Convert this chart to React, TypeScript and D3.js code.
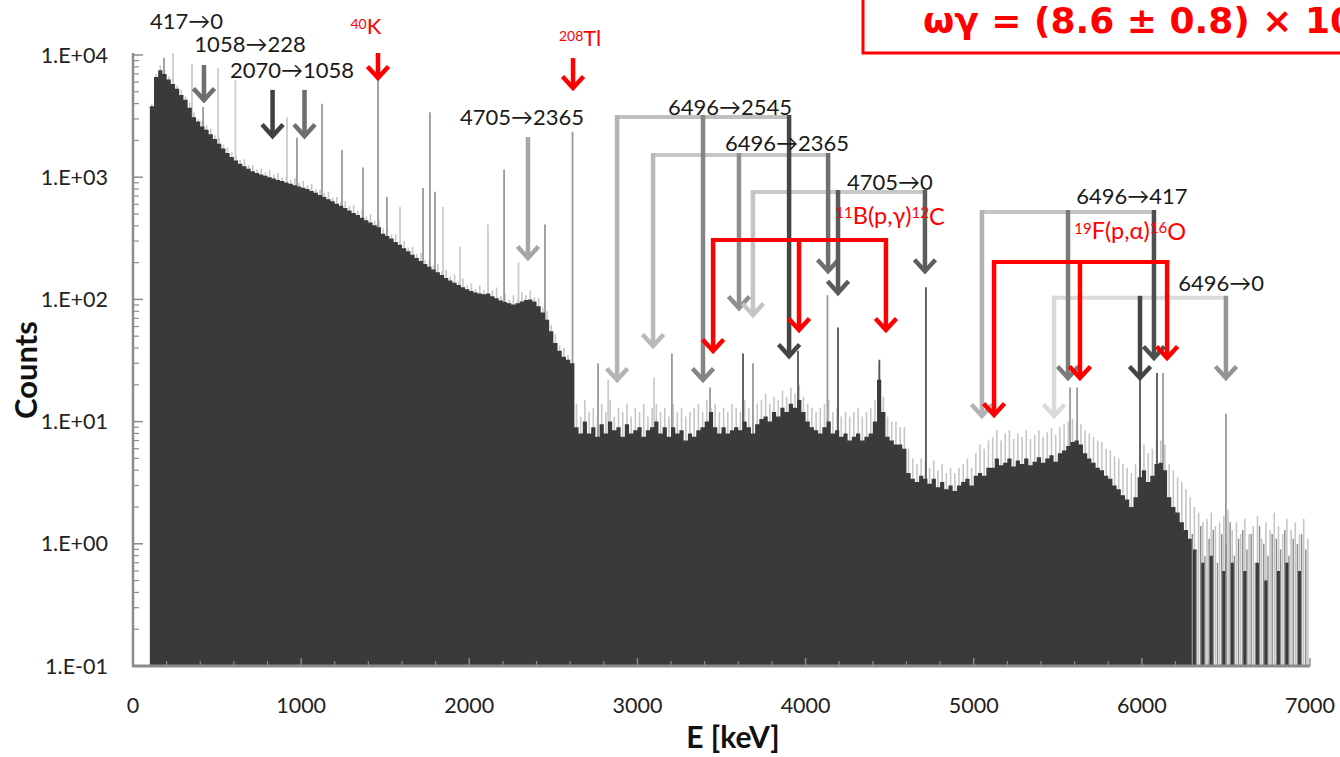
import React from "react";
import * as d3 from "d3";

const WIDTH = 1340;
const HEIGHT = 757;

// ---- axes ----
const xTicks = [0, 1000, 2000, 3000, 4000, 5000, 6000, 7000];
const yTicks = [0.1, 1, 10, 100, 1000, 10000];
const yTickLabels = ["1.E-01", "1.E+00", "1.E+01", "1.E+02", "1.E+03", "1.E+04"];
const xTitle = "E [keV]";
const yTitle = "Counts";

// ---- spectrum (25 keV bins from 100 keV) ----
const BIN_START = 100;
const BIN_WIDTH = 25;
const darkCounts = [
  3800, 6600, 7500, 7000, 6300, 5800, 5300, 4700, 4300, 3700, 3100, 2850, 2600, 2450, 2250, 2050, 1880, 1720, 1580, 1460,
  1370, 1290, 1230, 1170, 1120, 1080, 1050, 1030, 1000, 975, 950, 930, 905, 885, 860, 840, 820, 800, 770, 745,
  715, 690, 660, 635, 605, 585, 560, 535, 510, 490, 465, 445, 425, 405, 390, 345, 330, 315, 295, 280,
  262, 248, 232, 218, 206, 195, 185, 176, 167, 158, 150, 143, 137, 131, 126, 121, 117, 114, 112, 110,
  112, 106, 102, 98, 95, 93, 91, 93, 96, 99, 100, 96, 88, 78, 68, 55, 44, 38, 34, 32,
  30, 9, 8, 10, 8, 9, 7.5, 9.5, 8, 10, 8.5, 9, 7.5, 9.5, 8, 8.5, 9, 7.5, 8.5, 9,
  10, 8, 9, 7.5, 9, 8, 8.5, 7, 8, 7.5, 8.5, 9, 10, 12, 9, 8, 9, 8, 8.5, 9,
  8.5, 10, 9, 8, 9.5, 10.5, 11, 10, 12, 11, 13, 12, 14, 13, 15, 12, 10, 9, 8.5, 8,
  9, 10, 8, 8.5, 7.5, 8, 7, 7.5, 8, 7, 7.5, 8, 10, 22, 12, 7.5, 7, 6.5, 6.5, 6,
  3.8, 3.4, 3.2, 3.6, 3.4, 3.1, 3.4, 2.9, 3.2, 2.8, 3.0, 2.7, 3.0, 3.2, 3.4, 3.0, 3.6, 3.8, 3.6, 4.2,
  4.2, 5.0, 4.4, 4.6, 5.0, 4.3, 4.8, 4.5, 5.0, 4.4, 4.7, 5.1, 4.6, 5.0, 5.3, 4.7, 5.5, 5.8, 6.3, 6.8,
  7.0, 6.5, 5.5, 5.0, 4.6, 4.2, 4.0, 3.6, 3.4, 3.0, 2.8, 2.5, 2.3, 2.0, 2.4, 3.5, 4.0, 3.2, 3.6, 4.5,
  4.6, 4.0, 2.4, 2.0, 1.8, 1.5, 1.3, 1.1, 0.9, 0, 0.7, 0, 0.8, 0, 0, 0.6, 0, 0.7, 0, 0,
  0.6, 0, 0, 0.7, 0, 0.5, 0, 0, 0.6, 0, 0.7, 0, 0, 0.6, 0, 0,
];

// upper (light) fluctuation envelope, same 25 keV bins
const lightCounts = [
  4000, 7000, 8200, 7600, 6700, 6400, 5600, 5200, 4600, 4100, 3400, 3000, 2900, 2650, 2500, 2200, 2100, 1850, 1750, 1600,
  1500, 1380, 1400, 1250, 1260, 1160, 1180, 1100, 1150, 1050, 1080, 1000, 1020, 950, 980, 900, 930, 860, 880, 800,
  790, 740, 760, 680, 690, 630, 640, 580, 590, 530, 540, 480, 500, 440, 450, 380, 380, 340, 340, 300,
  300, 265, 270, 235, 240, 210, 215, 190, 195, 170, 175, 155, 160, 140, 148, 130, 135, 122, 130, 120,
  150, 118, 125, 106, 112, 100, 108, 100, 115, 108, 118, 104, 102, 86, 80, 62, 52, 42, 40, 35,
  12, 14, 11, 15, 12, 13, 11, 14, 12, 15, 11, 13, 12, 14, 11, 13, 12, 14, 11, 13,
  14, 12, 13, 11, 14, 12, 13, 11, 12, 13, 14, 12, 15, 13, 14, 12, 13, 12, 14, 13,
  12, 15, 13, 12, 14, 15, 17, 14, 16, 15, 18, 16, 19, 17, 20, 16, 14, 13, 12, 13,
  14, 15, 12, 13, 11, 12, 11, 12, 13, 11, 12, 13, 15, 30, 16, 11, 10, 10, 9, 9,
  6, 5, 4.5, 5, 4.8, 4.2, 4.8, 4, 4.5, 3.8, 4.2, 3.8, 4.2, 4.5, 5, 4.2, 5.5, 6.5, 6, 7,
  7.5, 8.5, 7, 8, 8.5, 7.2, 8, 7.5, 8.5, 7.2, 7.8, 8.5, 7.5, 8.2, 8.8, 7.8, 9, 9.5, 10, 10.5,
  10, 9.5, 8.5, 8, 7.5, 7, 6.8, 6, 5.8, 5.2, 5, 4.5, 4.2, 3.8, 4.5, 5.5, 6.5, 5.5, 6, 7,
  7, 6.5, 4.5, 4, 3.5, 3.2, 2.8, 2.4, 2, 1.8, 1.5, 1.6, 1.8, 1.4, 1.5, 1.7, 1.9, 1.3, 1.5, 1.2,
  1.6, 1.2, 1.4, 1.7, 1.1, 1.5, 1.3, 1.8, 1.4, 1.2, 1.6, 1.3, 1.5, 1.2, 1.6, 1.1,
];

// medium-grey channels in the sparse tail, at bin edges from 6300 keV
const TAIL_START = 6300;
const tailMidCounts = [1.2, 0.9, 1.4, 0.8, 1.1, 1.3, 0.7, 1.2, 1.0, 1.5, 0.8, 1.1, 1.3, 0.9, 1.2, 0.7, 1.4, 1.0, 0.8, 1.2, 1.1, 0.9, 1.3, 0.8, 1.1, 1.0, 1.2, 0.9];

// ---- narrow peaks ----
const peakEnergies = [184, 238, 351, 417, 506, 609, 916, 975, 1124, 1243, 1368, 1457, 1510, 1588, 1725, 1766, 1796, 1844, 1945, 2111, 2207, 2293, 2450, 2614, 2766, 2826, 3099, 3205, 3432, 3628, 3687, 3955, 4130, 4193, 4439, 4716, 5573, 5615, 5989, 6090, 6126, 6500];
const peakCounts = [9500, 10400, 8400, 3750, 7800, 6200, 3100, 2100, 4000, 1670, 1200, 6200, 690, 570, 815, 3400, 760, 570, 270, 410, 1150, 200, 410, 2360, 30, 22, 23, 36, 19, 36, 30, 38, 108, 59, 32, 126, 19, 19, 22, 25, 25, 11.6];
// 0 = light, 1 = medium, 2 = dark
const peakTones = [1, 0, 0, 1, 0, 0, 0, 1, 1, 1, 1, 1, 1, 0, 1, 1, 1, 0, 0, 0, 1, 0, 1, 1, 1, 0, 0, 1, 1, 2, 1, 2, 1, 2, 2, 2, 1, 1, 2, 2, 1, 1];

// ---- single transition arrows ----
const singleLabels = ["417→0", "1058→228", "2070→1058", "4705→2365"];
const singleEnergies = [422, 830, 1020, 2349];
const singleTopCounts = [8280, 5180, 5180, 2130];
const singleTipCounts = [4120, 2090, 2090, 210];
const singleLabelEnergies = [318, 696, 946, 2314];
const singleLabelCounts = [18800, 12300, 7540, 3110];

// ---- background sources ----
const sourceMass = ["40", "208"];
const sourceName = ["K", "Tl"];
const sourceEnergies = [1457, 2617];
const sourceTopCounts = [10380, 9440];
const sourceTipCounts = [6250, 5180];
const sourceLabelEnergies = [1385, 2659];
const sourceLabelCounts = [15100, 12080];

// ---- cascades (full energy, single escape, double escape) ----
const cascadeLabels = ["6496→2545", "6496→2365", "4705→0", "6496→417", "6496→0"];
const cascadeLegEnergies = [
  [2879, 3390, 3902],
  [3093, 3604, 4134],
  [3687, 4193, 4710],
  [5049, 5561, 6072],
  [5478, 5989, 6500],
];
const cascadeBarCounts = [3110, 1520, 757, 519, 103];
const cascadeTipCounts = [
  [21.1, 21.1, 33.1],
  [40, 81.8, 164],
  [71.8, 109, 164],
  [10.7, 21.9, 31.9],
  [10.7, 21.9, 21.9],
];
const cascadeLabelEnergies = [3551, 3890, 4502, 5941, 6471];
const cascadeLabelCounts = [3750, 1905, 914, 702, 136];

// ---- contaminant reactions (red) ----
const reactionParts = [
  ["11", "B(p,γ)", "12", "C"],
  ["19", "F(p,α)", "16", "O"],
];
const reactionLegEnergies = [
  [3450, 3961, 4478],
  [5121, 5632, 6150],
];
const reactionBarCounts = [306, 202];
const reactionTipCounts = [
  [36.4, 54.1, 54.1],
  [10.9, 21.9, 31.9],
];
const reactionLabelEnergies = [4502, 5930];
const reactionLabelCounts = [422, 318];

const resonanceText = "ωγ = (8.6 ± 0.8) × 10";

// ---- styles ----
const DARK = "#3a3a3a";
const LIGHT = "#c6c6c6";
const MID = "#8a8a8a";
const RED = "#ff0000";
const AXIS = "#8c8c8c";
const TONE_COLORS = ["#cdcdcd", "#9a9a9a", "#555555"];
const SINGLE_COLORS = ["#6e6e6e", "#404040", "#6e6e6e", "#a6a6a6"];
const CASCADE_LEG_COLORS = [
  ["#b4b4b4", "#858585", "#454545"],
  ["#b9b9b9", "#8f8f8f", "#6e6e6e"],
  ["#c4c4c4", "#5b5b5b", "#5e5e5e"],
  ["#b3b3b3", "#7c7c7c", "#4f4f4f"],
  ["#dadada", "#454545", "#959595"],
];
const CASCADE_BAR_COLORS = ["#c0c0c0", "#c6c6c6", "#c8c8c8", "#c4c4c4", "#dadada"];
const FONT = "Lato, 'DejaVu Sans', sans-serif";

const x = d3.scaleLinear().domain([0, 7000]).range([133, 1310]);
const y = d3.scaleLog().domain([0.1, 10000]).range([666, 55]);

function Arrow({ px, yTop, yTip, color, w = 4.5 }: { px: number; yTop: number; yTip: number; color: string; w?: number }) {
  const tip = yTip - 2;
  return (
    <g stroke={color} strokeWidth={w} fill="none">
      <line x1={px} x2={px} y1={yTop} y2={tip - 1} />
      <polyline points={`${px - 10.5},${tip - 11.5} ${px},${tip} ${px + 10.5},${tip - 11.5}`} strokeLinejoin="miter" />
    </g>
  );
}

export default function App() {
  const y0 = y(0.1);

  const pts: { e: number; v: number }[] = [];
  darkCounts.forEach((v, i) => {
    const e0 = BIN_START + i * BIN_WIDTH;
    pts.push({ e: e0, v });
    pts.push({ e: e0 + BIN_WIDTH, v });
  });
  const area = d3
    .area<{ e: number; v: number }>()
    .defined((d) => d.v > 0.1)
    .x((d) => x(d.e))
    .y0(y0)
    .y1((d) => y(Math.max(d.v, 0.1)));
  const darkPath = area(pts) || "";

  const minorY: number[] = [];
  [0.1, 1, 10, 100, 1000].forEach((d) => {
    for (let k = 2; k <= 9; k++) minorY.push(d * k);
  });
  const minorX = d3.range(200, 7000, 200).filter((v) => v % 1000 !== 0);

  return (
    <svg
      width={WIDTH}
      height={HEIGHT}
      style={{ position: "absolute", left: 0, top: 0, background: "#fff" }}
      fontFamily={FONT}
    >
      {/* light fluctuation spikes */}
      <g stroke={LIGHT} strokeWidth={1.6}>
        {lightCounts.map((v, i) => {
          const e = BIN_START + i * BIN_WIDTH + BIN_WIDTH / 2;
          return <line key={i} x1={x(e)} x2={x(e)} y1={y0} y2={y(v)} />;
        })}
      </g>
      {/* peaks */}
      <g strokeWidth={1.8}>
        {peakEnergies.map((e, i) => (
          <line key={i} x1={x(e)} x2={x(e)} y1={y0} y2={y(peakCounts[i])} stroke={TONE_COLORS[peakTones[i]]} />
        ))}
      </g>
      {/* dark spectrum */}
      <path d={darkPath} fill={DARK} />
      {/* medium grey tail channels */}
      <g stroke={MID} strokeWidth={1.4}>
        {tailMidCounts.map((v, i) => {
          const e = TAIL_START + i * BIN_WIDTH;
          return <line key={i} x1={x(e)} x2={x(e)} y1={y0} y2={y(v)} />;
        })}
      </g>

      {/* axes */}
      <g stroke={AXIS}>
        <line x1={133} x2={133} y1={y(10000) - 2} y2={y0 + 1} strokeWidth={2.5} />
        <line x1={132} x2={x(7000)} y1={y0} y2={y0} strokeWidth={3} />
        {yTicks.map((t) => (
          <line key={"ym" + t} x1={133} x2={143} y1={y(t)} y2={y(t)} strokeWidth={1.5} />
        ))}
        {minorY.map((t) => (
          <line key={"yn" + t} x1={133} x2={139} y1={y(t)} y2={y(t)} strokeWidth={1.2} />
        ))}
        {xTicks.map((t) => (
          <line key={"xm" + t} x1={x(t)} x2={x(t)} y1={y0} y2={y0 - 8} strokeWidth={1.5} />
        ))}
        {minorX.map((t) => (
          <line key={"xn" + t} x1={x(t)} x2={x(t)} y1={y0} y2={y0 - 5} strokeWidth={1.2} />
        ))}
      </g>
      <g fontSize={21.5} fill="#222">
        {yTicks.map((t, i) => (
          <text key={t} x={108} y={y(t)} dy="0.35em" textAnchor="end">
            {yTickLabels[i]}
          </text>
        ))}
        {xTicks.map((t) => (
          <text key={t} x={x(t)} y={705} dy="0.35em" textAnchor="middle">
            {t}
          </text>
        ))}
      </g>
      <text x={733} y={737} dy="0.35em" textAnchor="middle" fontSize={30} fontWeight="bold" fill="#111">
        {xTitle}
      </text>
      <text
        transform="translate(26,370) rotate(-90)"
        dy="0.35em"
        textAnchor="middle"
        fontSize={31}
        fontWeight="bold"
        fill="#111"
      >
        {yTitle}
      </text>

      {/* cascade brackets */}
      {cascadeLabels.map((lab, ci) => {
        const legs = cascadeLegEnergies[ci];
        const yb = y(cascadeBarCounts[ci]);
        return (
          <line key={"cb" + ci} x1={x(legs[0])} x2={x(legs[2])} y1={yb} y2={yb} stroke={CASCADE_BAR_COLORS[ci]} strokeWidth={4} strokeLinecap="square" />
        );
      })}
      {cascadeLabels.map((lab, ci) => (
        <g key={"cl" + ci}>
          {cascadeLegEnergies[ci].map((e, li) => (
            <Arrow key={li} px={x(e)} yTop={y(cascadeBarCounts[ci]) - 2} yTip={y(cascadeTipCounts[ci][li])} color={CASCADE_LEG_COLORS[ci][li]} />
          ))}
        </g>
      ))}
      {/* single arrows */}
      {singleEnergies.map((e, i) => (
        <Arrow key={"s" + i} px={x(e)} yTop={y(singleTopCounts[i])} yTip={y(singleTipCounts[i])} color={SINGLE_COLORS[i]} />
      ))}
      {/* reactions (red) */}
      {reactionLegEnergies.map((legs, ri) => {
        const yb = y(reactionBarCounts[ri]);
        return (
          <g key={"r" + ri}>
            <line x1={x(legs[0])} x2={x(legs[2])} y1={yb} y2={yb} stroke={RED} strokeWidth={4} strokeLinecap="square" />
            {legs.map((e, li) => (
              <Arrow key={li} px={x(e)} yTop={yb - 2} yTip={y(reactionTipCounts[ri][li])} color={RED} />
            ))}
          </g>
        );
      })}
      {/* sources (red) */}
      {sourceEnergies.map((e, i) => (
        <Arrow key={"src" + i} px={x(e)} yTop={y(sourceTopCounts[i])} yTip={y(sourceTipCounts[i])} color={RED} />
      ))}

      {/* labels */}
      <g fontSize={22} fill="#1a1a1a">
        {singleLabels.map((l, i) => (
          <text key={l} x={x(singleLabelEnergies[i])} y={y(singleLabelCounts[i])} dy="0.35em" textAnchor="middle">
            {l}
          </text>
        ))}
        {cascadeLabels.map((l, i) => (
          <text key={l} x={x(cascadeLabelEnergies[i])} y={y(cascadeLabelCounts[i])} dy="0.35em" textAnchor="middle">
            {l}
          </text>
        ))}
      </g>
      <g fill={RED}>
        {sourceEnergies.map((e, i) => (
          <text key={i} x={x(sourceLabelEnergies[i])} y={y(sourceLabelCounts[i])} dy="0.35em" textAnchor="middle" fontSize={22}>
            <tspan fontSize={14} dy="-0.3em">{sourceMass[i]}</tspan>
            <tspan dy="0.25em">{sourceName[i]}</tspan>
          </text>
        ))}
        {reactionParts.map((p, i) => (
          <text key={i} x={x(reactionLabelEnergies[i])} y={y(reactionLabelCounts[i])} dy="0.35em" textAnchor="middle" fontSize={23.5}>
            <tspan fontSize={15} dy="-0.3em">{p[0]}</tspan>
            <tspan dy="0.25em">{p[1]}</tspan>
            <tspan fontSize={15} dy="-0.45em">{p[2]}</tspan>
            <tspan dy="0.3em">{p[3]}</tspan>
          </text>
        ))}
      </g>

      {/* resonance strength box */}
      <rect x={863} y={-20} width={600} height={73} fill="none" stroke={RED} strokeWidth={3} />
      <text x={923} y={33} fontFamily="'DejaVu Sans', sans-serif" fontWeight="bold" fontSize={36} fill={RED}>
        {resonanceText}
      </text>
    </svg>
  );
}
